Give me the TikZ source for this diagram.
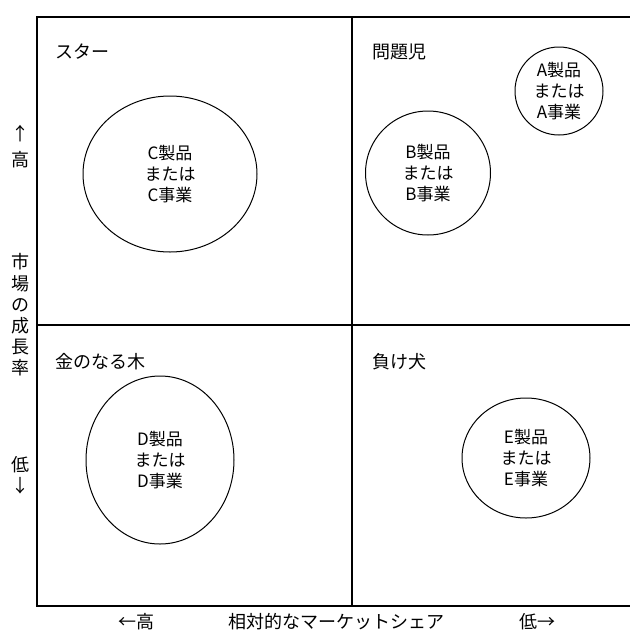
\documentclass[tikz,border=0pt]{standalone}
\usepackage{fontspec}
\setmainfont{Noto Sans CJK JP}
\usetikzlibrary{positioning,shapes,calc}

\begin{document}
\begin{tikzpicture}[x=1pt,y=-1pt,
  bubble/.style={draw,shape=ellipse,inner sep=0pt,line width=1pt,align=center,font=\fontsize{17}{21}\selectfont},
  quad/.style={anchor=west,inner sep=0pt,font=\fontsize{18}{21}\selectfont},
  axis/.style={inner sep=0pt,align=center,font=\fontsize{18}{21.2}\selectfont}]
  \useasboundingbox (0,0) rectangle (630,630);
  % Frame of the matrix, cut off at the right edge
  \draw[line width=2pt] (37,17) rectangle (645,606);
  \draw[line width=2pt] (352,17) -- (352,606) (37,325) -- (645,325);
  % Names of the four quadrants
  \path (55,52) node[quad] (star) {スター};
  \path (372,52) node[quad] (problem) {問題児};
  \path (55,362) node[quad] (cow) {金のなる木};
  \path (372,362) node[quad] (dog) {負け犬};
  % Products or businesses
  \path (170,174) node[bubble,minimum width=174pt,minimum height=156pt] (C) {C製品\\または\\C事業};
  \path (428,173) node[bubble,minimum width=125pt,minimum height=124pt] (B) {B製品\\または\\B事業};
  \path (559,91) node[bubble,minimum width=88pt,minimum height=88pt] (A) {A製品\\または\\A事業};
  \path (160,460) node[bubble,minimum width=148pt,minimum height=168pt] (D) {D製品\\または\\D事業};
  \path (526,458) node[bubble,minimum width=128pt,minimum height=120pt] (E) {E製品\\または\\E事業};
  % Vertical axis: market growth rate
  \path (20,134) node[axis] (upArrow) {↑};
  \path (20,160) node[axis] (growHigh) {高};
  \path (20,315) node[axis] (growth) {市\\場\\の\\成\\長\\率};
  \path (20,465) node[axis] (growLow) {低};
  \path (20,486) node[axis] (downArrow) {↓};
  % Horizontal axis: relative market share
  \path (136,622) node[axis] (shareHigh) {←高};
  \path (336,622) node[axis] (share) {相対的なマーケットシェア};
  \path (537,622) node[axis] (shareLow) {低→};
\end{tikzpicture}
\end{document}
